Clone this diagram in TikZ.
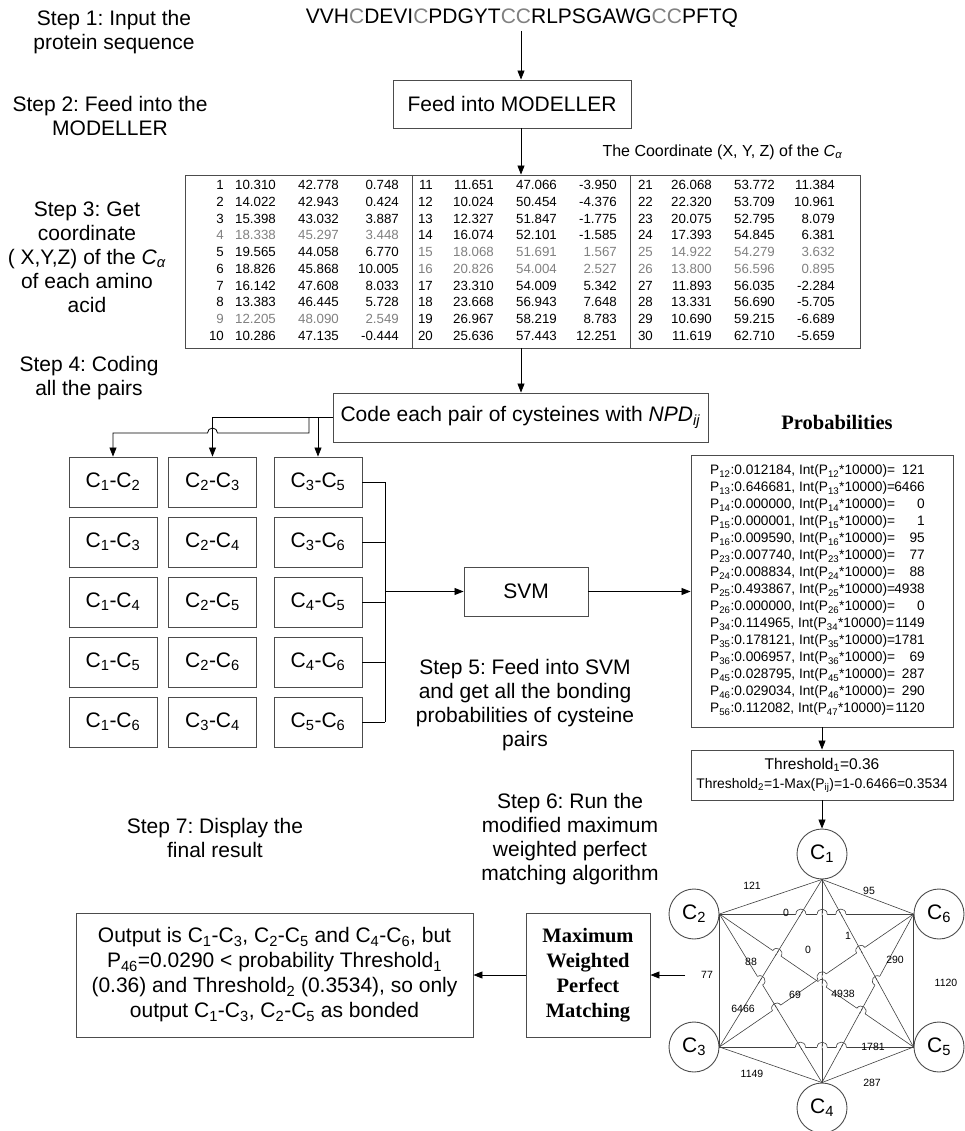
\documentclass[tikz,border=0pt]{standalone}
\usepackage{fontspec}
\setmainfont{Liberation Sans}
\newfontfamily\timesbf{Liberation Serif}
\usetikzlibrary{arrows.meta, calc, positioning}
\colorlet{cysgray}{black!50}
\frenchspacing

\begin{document}
\begin{tikzpicture}[x=1pt, y=-1pt, font=\fontsize{21}{24}\selectfont,
    box/.style={draw=black!70, line width=0.9pt},
    arr/.style={-{Triangle[length=9pt,width=7pt]}, line width=0.8pt},
    steptxt/.style={align=center},
    pairbox/.style={box, minimum width=88pt, minimum height=50pt},
    cnode/.style={circle, draw=black!70, line width=0.9pt, minimum size=50pt, inner sep=0pt},
    gedge/.style={line width=0.6pt, black!75},
    wt/.style={font=\fontsize{10.5}{12}\selectfont, inner sep=0pt},
    num/.style={font=\fontsize{13.3}{16}\selectfont, anchor=base east, inner sep=0pt},
    prow/.style={font=\fontsize{13.7}{17}\selectfont, inner sep=0pt}]
	\useasboundingbox (0,0) rectangle (964,1131);
	\def\cys{\textcolor{cysgray}{C}}
	\def\hop#1#2#3#4{
		\coordinate (hp) at (intersection of v#1--v#2 and v#3--v#4);
		\draw[white, line width=1.6pt] ($(hp)!5pt!(v#1)$) -- ($(hp)!5pt!(v#2)$);
		\draw[gedge] ($(hp)!3pt!(v#3)$) -- ($(hp)!3pt!(v#4)$);
		\draw[gedge] ($(hp)!5pt!(v#1)$) to[bend left=90, looseness=1.7] ($(hp)!5pt!(v#2)$);
	}
	\node[steptxt] (step1) at (114,32) {Step 1: Input the\\protein sequence};
	\node[steptxt] (step2) at (110,116) {Step 2: Feed into the\\MODELLER};
	\node[steptxt] (step3) at (87,257) {Step 3: Get\\coordinate\\( X,Y,Z) of the \textit{C}\textsubscript{\textit{α}}\\of each amino\\acid};
	\node[steptxt] (step4) at (89,378) {Step 4: Coding\\all the pairs};
	\node[steptxt] (step5) at (525,705) {Step 5: Feed into SVM\\and get all the bonding\\probabilities of cysteine\\pairs};
	\node[steptxt] (step6) at (570,839) {Step 6: Run the\\modified maximum\\weighted perfect\\matching algorithm};
	\node[steptxt] (step7) at (215,838) {Step 7: Display the\\final result};

	\node (seq) at (522,18) {VVH\cys DEVI\cys PDGYT\cys\cys RLPSGAWG\cys\cys PFTQ};
	\node[box, minimum width=238pt, minimum height=48pt] (feed) at (512,104) {Feed into MODELLER};
	\coordinate (ax) at (521,0);
	\draw[arr] (seq.south -| ax) -- (feed.north -| ax);
	\node[anchor=west, font=\fontsize{16}{19}\selectfont] (coordlbl) at (599,152) {The Coordinate (X, Y, Z) of the \textit{C}\textsubscript{\textit{α}}};

	\node[box, minimum width=675pt, minimum height=173pt] (tab) at (522.5,261.5) {};
	\draw[box] (412,175) -- (412,348) (630,175) -- (630,348);
	\draw[arr] (feed.south -| ax) -- (tab.north -| ax);
	\foreach \i/\xa/\ya/\za/\cl in {1/10.310/42.778/0.748/black, 2/14.022/42.943/0.424/black,
		3/15.398/43.032/3.887/black, 4/18.338/45.297/3.448/cysgray, 5/19.565/44.058/6.770/black,
		6/18.826/45.868/10.005/black, 7/16.142/47.608/8.033/black, 8/13.383/46.445/5.728/black,
		9/12.205/48.090/2.549/cysgray, 10/10.286/47.135/-0.444/black,
		11/11.651/47.066/-3.950/black, 12/10.024/50.454/-4.376/black, 13/12.327/51.847/-1.775/black,
		14/16.074/52.101/-1.585/black, 15/18.068/51.691/1.567/cysgray, 16/20.826/54.004/2.527/cysgray,
		17/23.310/54.009/5.342/black, 18/23.668/56.943/7.648/black, 19/26.967/58.219/8.783/black,
		20/25.636/57.443/12.251/black,
		21/26.068/53.772/11.384/black, 22/22.320/53.709/10.961/black, 23/20.075/52.795/8.079/black,
		24/17.393/54.845/6.381/black, 25/14.922/54.279/3.632/cysgray, 26/13.800/56.596/0.895/cysgray,
		27/11.893/56.035/-2.284/black, 28/13.331/56.690/-5.705/black, 29/10.690/59.215/-6.689/black,
		30/11.619/62.710/-5.659/black} {
		\pgfmathtruncatemacro\tblk{(\i-1)/10}
		\pgfmathtruncatemacro\trow{\i-1-10*\tblk}
		\pgfmathsetmacro\tdx{{0,218,436}[\tblk]}
		\pgfmathsetmacro\tix{{224,433,653}[\tblk]}
		\pgfmathsetmacro\tby{189.9+16.7*\trow}
		\node[num, text=\cl] (id\i) at (\tix,\tby) {\i};
		\node[num, text=\cl] (xc\i) at (276+\tdx,\tby) {\xa};
		\node[num, text=\cl] (yc\i) at (339+\tdx,\tby) {\ya};
		\node[num, text=\cl] (zc\i) at (399+\tdx,\tby) {\za};
	}

	\node[box, minimum width=375pt, minimum height=49pt] (code) at (520.5,417.5) {Code each pair of cysteines with \textit{NPD}\textsubscript{\textit{ij}}};
	\draw[arr] (tab.south -| ax) -- (code.north -| ax);

	\foreach \a/\b [count=\n from 0] in {1/2,1/3,1/4,1/5,1/6,2/3,2/4,2/5,2/6,3/4,3/5,3/6,4/5,4/6,5/6} {
		\pgfmathtruncatemacro\pc{\n/5}
		\pgfmathtruncatemacro\pr{\n-5*\pc}
		\pgfmathsetmacro\px{{113,212.5,318}[\pc]}
		\node[pairbox] (pair\a\b) at (\px,482+60*\pr) {C\textsubscript{\a}-C\textsubscript{\b}};
	}
	\draw[arr] (code.west) -| (pair23.north);
	\coordinate (br1) at (309,433);
	\draw[arr] (code.west -| br1) -- (br1) -- ($(br1 -| pair23.north)+(5pt,0)$) arc[start angle=0, end angle=180, radius=5pt] -- (br1 -| pair12.north) -- (pair12.north);
	\draw[arr] (code.west -| pair35.north) -- (pair35.north);

	\coordinate (bus) at (385,0);
	\foreach \p in {35,36,45,46,56} \draw[line width=0.8pt] (pair\p.east) -- (pair\p.east -| bus);
	\draw[line width=0.8pt] (pair35.east -| bus) -- (pair56.east -| bus);
	\node[box, minimum width=124pt, minimum height=49pt] (svm) at (526,591.5) {SVM};
	\draw[arr] (svm.west -| bus) -- (svm.west);

	\node[font=\timesbf\bfseries\fontsize{20.5}{24}\selectfont] (probtitle) at (837,422) {Probabilities};
	\node[box, minimum width=262pt, minimum height=272pt] (prob) at (822,591) {};
	\draw[arr] (svm.east) -- (svm.east -| prob.west);
	\foreach \pa/\pb/\pv/\pw [count=\n from 0] in {12/12/0.012184/121, 13/13/0.646681/6466,
		14/14/0.000000/0, 15/15/0.000001/1, 16/16/0.009590/95, 23/23/0.007740/77,
		24/24/0.008834/88, 25/25/0.493867/4938, 26/26/0.000000/0, 34/34/0.114965/1149,
		35/35/0.178121/1781, 36/36/0.006957/69, 45/45/0.028795/287, 46/46/0.029034/290,
		56/47/0.112082/1120} {
		\node[prow, anchor=base west] (pl\pa) at (710,474.9+17*\n) {P\textsubscript{\pa}:\pv, Int(P\textsubscript{\pb}*10000)=};
		\node[prow, anchor=base east] (pv\pa) at (925,474.9+17*\n) {\pw};
	}

	\node[box, minimum width=262pt, minimum height=50pt, align=center, font=\fontsize{13.9}{19}\selectfont] (thr) at (822,775) {{\fontsize{15.5}{19}\selectfont Threshold\textsubscript{1}=0.36}\\Threshold\textsubscript{2}=1-Max(P\textsubscript{ij})=1-0.6466=0.3534};
	\draw[arr] (prob.south) -- (thr.north);

	\node[cnode] (c1) at (822,854) {C\textsubscript{1}};
	\node[cnode] (c2) at (694,914) {C\textsubscript{2}};
	\node[cnode] (c6) at (939,914) {C\textsubscript{6}};
	\node[cnode] (c3) at (694,1047) {C\textsubscript{3}};
	\node[cnode] (c5) at (939,1047) {C\textsubscript{5}};
	\node[cnode] (c4) at (822,1108) {C\textsubscript{4}};
	\draw[arr] (thr.south) -- (c1.north);
	\coordinate (v1) at (c1.south);
	\coordinate (v2) at (c2.east);
	\coordinate (v3) at (c3.east);
	\coordinate (v4) at (c4.north);
	\coordinate (v5) at (c5.west);
	\coordinate (v6) at (c6.west);
	\foreach \a/\b in {1/2,1/3,1/4,1/5,1/6,2/3,2/4,2/5,2/6,3/4,3/5,3/6,4/5,4/6,5/6} \draw[gedge] (v\a) -- (v\b);
	\hop{2}{6}{1}{3}\hop{2}{6}{1}{4}\hop{2}{6}{1}{5}
	\hop{3}{5}{2}{4}\hop{3}{5}{1}{4}\hop{3}{5}{6}{4}
	\hop{2}{5}{1}{3}\hop{2}{5}{1}{4}\hop{2}{5}{6}{4}
	\hop{3}{6}{2}{4}\hop{3}{6}{1}{4}\hop{3}{6}{1}{5}
	\hop{2}{4}{1}{3}\hop{4}{6}{1}{5}
	\node[wt] (w12) at (752,886) {121};
	\node[wt] (w16) at (869,891) {95};
	\node[wt] (w26) at (786,913) {0};
	\node[wt] (w15) at (848,936) {1};
	\node[wt] (w14) at (808,950) {0};
	\node[wt] (w24) at (751,962) {88};
	\node[wt] (w46) at (895,960) {290};
	\node[wt] (w23) at (707,975) {77};
	\node[wt] (w56) at (946,983) {1120};
	\node[wt] (w36) at (795,995) {69};
	\node[wt] (w25) at (843,994) {4938};
	\node[wt] (w13) at (743,1009) {6466};
	\node[wt] (w35) at (873,1047) {1781};
	\node[wt] (w34) at (752,1074) {1149};
	\node[wt] (w45) at (872,1083) {287};

	\coordinate (mwin) at (685,975);
	\node[box, minimum width=124pt, minimum height=124pt, align=center, font=\timesbf\bfseries\fontsize{20.5}{25}\selectfont] (mw) at (588,975) {Maximum\\Weighted\\Perfect\\Matching};
	\draw[arr] (mwin) -- (mw.east);
	\node[box, minimum width=397pt, minimum height=124pt, align=center, font=\fontsize{21}{25}\selectfont] (out) at (274.5,975) {Output is C\textsubscript{1}-C\textsubscript{3}, C\textsubscript{2}-C\textsubscript{5} and C\textsubscript{4}-C\textsubscript{6}, but\\P\textsubscript{46}=0.0290 < probability Threshold\textsubscript{1}\\(0.36) and Threshold\textsubscript{2} (0.3534), so only\\output C\textsubscript{1}-C\textsubscript{3}, C\textsubscript{2}-C\textsubscript{5} as bonded};
	\draw[arr] (mw.west) -- (out.east);
\end{tikzpicture}
\end{document}
